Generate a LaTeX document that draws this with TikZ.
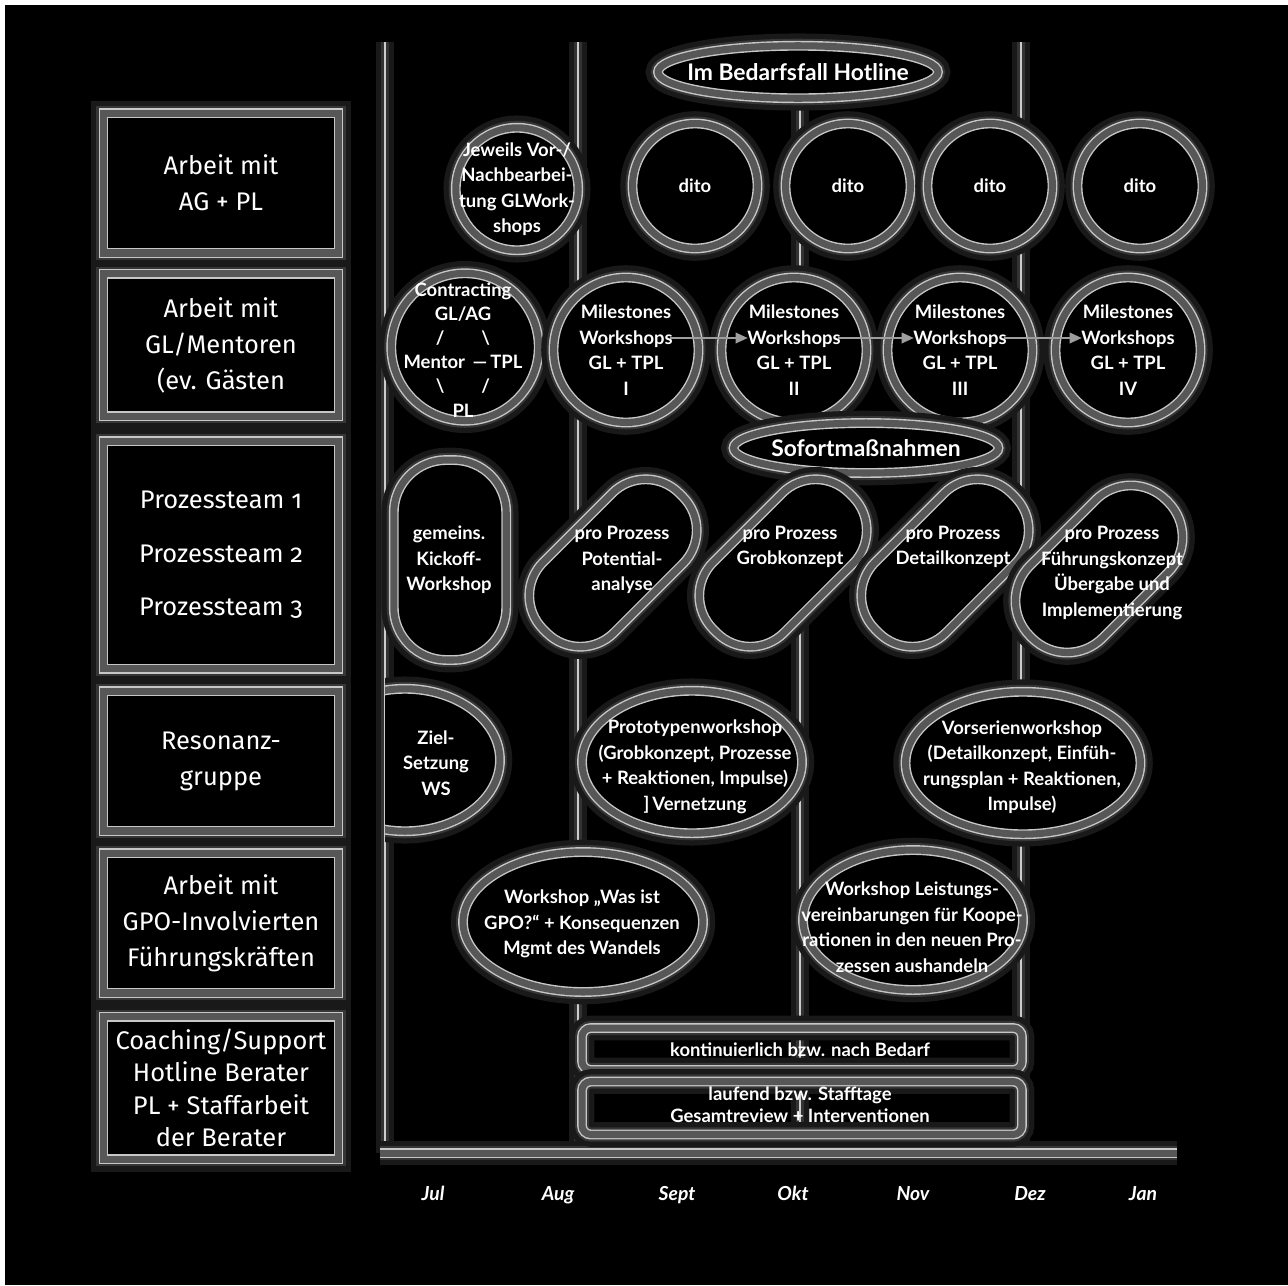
\documentclass[tikz,border=0pt]{standalone}
\usepackage{fontspec}
\setmainfont{Fira Sans}[Numbers=OldStyle]
\newfontfamily\cardfont{Lato}
\usetikzlibrary{arrows.meta, positioning, shapes.geometric}

\begin{document}
\begin{tikzpicture}[
    x=0.02cm, y=-0.02cm,
    halo/.style = {preaction={draw=white!10!black, line width=14pt},
                   preaction={draw=white!21!black, line width=8pt}},
    thinhalo/.style = {preaction={draw=white!10!black, line width=10pt},
                       preaction={draw=white!20!black, line width=5pt}},
    rim/.style = {halo, draw=white!78!black, line width=0.8pt,
                  double=white!34!black, double distance=4pt},
    gridline/.style = {thinhalo, draw=white!80!black, line width=1pt},
    lanebox/.style = {rim, fill=black, minimum width=4.7cm, text=white, align=center,
                      font=\fontsize{14.5}{20.5}\selectfont},
    ring/.style = {rim, circle, fill=black, inner sep=0pt},
    oval/.style = {rim, ellipse, fill=black, inner sep=0pt},
    pill/.style = {rim, rectangle, fill=black, inner sep=0pt},
    bar/.style = {rim, rectangle, rounded corners=5pt, minimum width=8.8cm, inner sep=0pt},
    intext/.style = {text=white, align=center, inner sep=0pt,
                     font=\cardfont\bfseries\fontsize{10.5}{14.5}\selectfont},
    bigtext/.style = {intext, font=\cardfont\bfseries\fontsize{13}{15}\selectfont},
    month/.style = {text=white, inner sep=0pt, anchor=base,
                    font=\cardfont\bfseries\itshape\fontsize{11}{13}\selectfont},
    msarrow/.style = {-{Triangle[length=7pt, width=6pt]}, draw=white!62!black, line width=1.3pt}
  ]

  % page
  \fill[white] (0,0) rectangle (1288,1285);
  \fill[black] (5,5) rectangle (1288,1285);
  \useasboundingbox (0,0) rectangle (1288,1285);

  % month grid
  \draw[gridline] (385,42) -- (385,1153);
  \draw[gridline] (578,42) -- (578,1153);
  \draw[gridline] (800,42) -- (800,1153);
  \draw[gridline] (1021,42) -- (1021,1153);
  \draw[rim] (380,1153) -- (1177,1153);

  % lanes
  \node[lanebox, minimum height=2.8cm] (agpl) at (221,183) {Arbeit mit\\AG + PL};
  \node[lanebox, minimum height=2.85cm] (glment) at (221,345) {Arbeit mit\\GL/Mentoren\\(ev. Gästen};
  \node[lanebox, minimum height=4.55cm] (pteams) at (221,555) {Prozessteam 1\\[10pt]Prozessteam 2\\[10pt]Prozessteam 3};
  \node[lanebox, minimum height=2.8cm] (reson) at (221,761) {Resonanz-\\gruppe};
  \node[lanebox, minimum height=2.8cm] (gpofk) at (221,923) {Arbeit mit\\GPO-Involvierten\\Führungskräften};
  \node[lanebox, minimum height=2.85cm, font=\fontsize{14.5}{18.5}\selectfont] (coach) at (221,1088)
    {Coaching/Support\\Hotline Berater\\PL + Staffarbeit\\der Berater};

  % row AG + PL
  \node[oval, minimum width=5.6cm, minimum height=1.05cm] (hotline) at (798,72) {};
  \node[ring, minimum size=2.45cm] (prep) at (517,189) {};
  \node[ring, minimum size=2.5cm] (dito1) at (695,186) {};
  \node[ring, minimum size=2.5cm] (dito2) at (848,186) {};
  \node[ring, minimum size=2.5cm] (dito3) at (990,186) {};
  \node[ring, minimum size=2.5cm] (dito4) at (1140,186) {};

  % row GL/Mentoren
  \node[ring, minimum size=2.95cm] (contract) at (465,347) {};
  \node[ring, minimum size=2.9cm] (ms1) at (626,350) {};
  \node[ring, minimum size=2.9cm] (ms2) at (794,350) {};
  \node[ring, minimum size=2.9cm] (ms3) at (960,350) {};
  \node[ring, minimum size=2.9cm] (ms4) at (1128,350) {};
  \node[oval, minimum width=5.3cm, minimum height=1.0cm] (sofort) at (866,448) {};

  % row Prozessteams
  \node[pill, minimum width=2.25cm, minimum height=4.0cm, rounded corners=1.05cm] (kickoff) at (450,560) {};
  \node[pill, minimum width=3.85cm, minimum height=2.0cm, rounded corners=0.95cm, rotate=45] (potent) at (613,563) {};
  \node[pill, minimum width=3.85cm, minimum height=2.0cm, rounded corners=0.95cm, rotate=45] (grob) at (783,563) {};
  \node[pill, minimum width=3.85cm, minimum height=2.0cm, rounded corners=0.95cm, rotate=45] (detail) at (945,563) {};
  \node[pill, minimum width=3.85cm, minimum height=2.05cm, rounded corners=1cm, rotate=45] (fuehr) at (1099,569) {};

  % row Resonanzgruppe
  \begin{scope}
    \clip (385,600) rectangle (600,900);
    \node[oval, minimum width=3.8cm, minimum height=2.85cm] (ziel) at (405,760) {};
  \end{scope}
  \node[oval, minimum width=4.4cm, minimum height=2.85cm] (proto) at (692,762) {};
  \node[oval, minimum width=4.7cm, minimum height=2.85cm] (vorser) at (1023,763) {};

  % row GPO
  \node[oval, minimum width=4.8cm, minimum height=2.8cm] (gpows) at (583,922) {};
  \node[oval, minimum width=4.4cm, minimum height=2.8cm] (leistws) at (913,920) {};

  % row Coaching
  \node[bar, minimum height=0.84cm] (kontin) at (802,1049) {};
  \node[bar, minimum height=1.06cm] (laufend) at (802,1108) {};

  % milestone chain
  \draw[msarrow] ([xshift=-0.58cm, yshift=0.24cm]ms1.east) -- ([xshift=0.54cm, yshift=0.24cm]ms2.west);
  \draw[msarrow] ([xshift=-0.58cm, yshift=0.24cm]ms2.east) -- ([xshift=0.54cm, yshift=0.24cm]ms3.west);
  \draw[msarrow] ([xshift=-0.58cm, yshift=0.24cm]ms3.east) -- ([xshift=0.54cm, yshift=0.24cm]ms4.west);

  % texts
  \node[bigtext] (hotline-t) at (hotline) {Im Bedarfsfall Hotline};
  \node[intext] (prep-t) at (prep) {Jeweils Vor-/\\Nachbearbei-\\tung GLWork-\\shops};
  \node[intext] (dito1-t) at (dito1) {dito};
  \node[intext] (dito2-t) at (dito2) {dito};
  \node[intext] (dito3-t) at (dito3) {dito};
  \node[intext] (dito4-t) at (dito4) {dito};
  \node[intext, font=\cardfont\bfseries\fontsize{10.5}{13.7}\selectfont] (contract-t) at (463,350)
    {Contracting\\GL/AG\\/\qquad\textbackslash\\Mentor \,—\,TPL\\\textbackslash\qquad/\\PL};
  \node[intext] (ms1-t) at (ms1) {Milestones\\Workshops\\GL + TPL\\I};
  \node[intext] (ms2-t) at (ms2) {Milestones\\Workshops\\GL + TPL\\II};
  \node[intext] (ms3-t) at (ms3) {Milestones\\Workshops\\GL + TPL\\III};
  \node[intext] (ms4-t) at (ms4) {Milestones\\Workshops\\GL + TPL\\IV};
  \node[bigtext] (sofort-t) at (sofort) {Sofortmaßnahmen};
  \node[intext] (kickoff-t) at (449,560) {gemeins.\\Kickoff-\\Workshop};
  \node[intext] (potent-t) at (622,560) {pro Prozess\\Potential-\\analyse};
  \node[intext] (grob-t) at (790,547) {pro Prozess\\Grobkonzept};
  \node[intext] (detail-t) at (953,547) {pro Prozess\\Detailkonzept};
  \node[intext] (fuehr-t) at (1112,573) {pro Prozess\\Führungskonzept\\Übergabe und\\Implementierung};
  \node[intext] (ziel-t) at (436,763) {Ziel-\\Setzung\\WS};
  \node[intext] (proto-t) at (695,767) {Prototypenworkshop\\(Grobkonzept, Prozesse\\+ Reaktionen, Impulse)\\]\,Vernetzung};
  \node[intext] (vorser-t) at (1022,767) {Vorserienworkshop\\(Detailkonzept, Einfüh-\\rungsplan + Reaktionen,\\Impulse)};
  \node[intext] (gpows-t) at (582,924) {Workshop „Was ist\\GPO?“ + Konsequenzen\\Mgmt des Wandels};
  \node[intext] (leistws-t) at (912,927) {Workshop Leistungs-\\vereinbarungen für Koope-\\rationen in den neuen Pro-\\zessen aushandeln};
  \node[intext] (kontin-t) at (800,1050) {kontinuierlich bzw. nach Bedarf};
  \node[intext, font=\cardfont\bfseries\fontsize{10.5}{12.5}\selectfont] (laufend-t) at (800,1105)
    {laufend bzw. Stafftage\\Gesamtreview + Interventionen};

  % months
  \node[month] (jul) at (433,1200) {Jul};
  \node[month] (aug) at (558,1200) {Aug};
  \node[month] (sep) at (677,1200) {Sept};
  \node[month] (okt) at (793,1200) {Okt};
  \node[month] (nov) at (913,1200) {Nov};
  \node[month] (dez) at (1030,1200) {Dez};
  \node[month] (jan) at (1143,1200) {Jan};

\end{tikzpicture}
\end{document}
